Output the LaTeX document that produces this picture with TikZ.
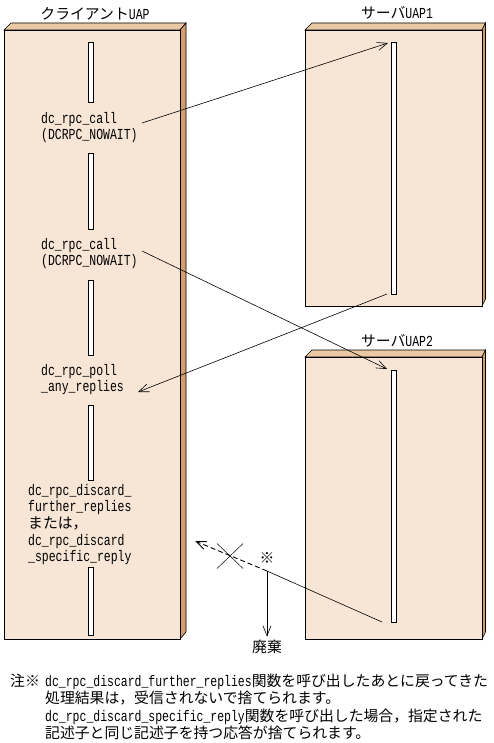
\documentclass[tikz,border=0pt]{standalone}
\usepackage{fontspec}
\setmainfont{Liberation Mono}[FakeStretch=0.75]
\newfontfamily\jp{Noto Sans CJK JP}[Scale=0.97]
\usetikzlibrary{arrows.meta}
\definecolor{facefront}{HTML}{F7E5D5}
\definecolor{facetop}{HTML}{EBC8A4}
\definecolor{faceside}{HTML}{D49E6E}
% UAP box: (left,top)(right,bottom){depth}
\def\uapbox(#1,#2)(#3,#4)#5{%
	\filldraw[fill=facetop, line width=0.6pt] (#1,#2) -- (#1+7,#2-7) -- (#3+#5,#2-7) -- (#3,#2) -- cycle;
	\filldraw[fill=faceside, line width=0.6pt] (#3,#2) -- (#3+#5,#2-7) -- (#3+#5,#4-7) -- (#3,#4) -- cycle;
	\filldraw[fill=facefront, line width=0.6pt] (#1,#2) rectangle (#3,#4);
}

\begin{document}
\begin{tikzpicture}[x=1pt, y=-1pt,
		every node/.style={font=\fontsize{15.3}{16.7}\selectfont},
		bar/.style={draw, fill=white, line width=0.6pt, minimum width=5pt, inner sep=0pt},
		lbl/.style={align=left, anchor=west, inner sep=0pt},
		msg/.style={-{Straight Barb[length=10pt,width=8pt]}, line width=0.6pt}]
		%%%%% START %%%%%
		
		\useasboundingbox (0,0) rectangle (493,743);
		
		\uapbox(4,30)(180,639){6}
		\uapbox(305,30)(482,306){3.5}
		\uapbox(305,357)(482,639){3.5}
		
		\node (tcli) at (95,14) {{\jp クライアント}UAP};
		\node (tsv1) at (397,13) {{\jp サーバ}UAP1};
		\node (tsv2) at (397,341) {{\jp サーバ}UAP2};
		
		\node[bar, minimum height=60pt] (cb1) at (91,72) {};
		\node[bar, minimum height=76pt] (cb2) at (91,191) {};
		\node[bar, minimum height=75pt] (cb3) at (91,317.5) {};
		\node[bar, minimum height=75pt] (cb4) at (91,442.5) {};
		\node[bar, minimum height=68pt] (cb5) at (91,601) {};
		\node[bar, minimum height=252pt] (sb1) at (393.5,168) {};
		\node[bar, minimum height=252pt] (sb2) at (393.5,496) {};
		
		\node[lbl] (call1) at (41,127.5) {dc\_rpc\_call\\(DCRPC\_NOWAIT)};
		\node[lbl] (call2) at (41,253.5) {dc\_rpc\_call\\(DCRPC\_NOWAIT)};
		\node[lbl] (poll) at (41,379.5) {dc\_rpc\_poll\\\_any\_replies};
		\node[lbl] (discard) at (28,524.5) {dc\_rpc\_discard\_\\further\_replies\\{\jp または，}\\dc\_rpc\_discard\\\_specific\_reply};
		
		\coordinate (call1out) at (142,123);
		\coordinate (s1in) at (388,43);
		\coordinate (call2out) at (142,251);
		\coordinate (s2in) at (387,369);
		\coordinate (s1out) at (387,294);
		\coordinate (pollin) at (138,392);
		\coordinate (s2out) at (382,622);
		\coordinate (split) at (267,571);
		\coordinate (discardin) at (195,541);
		\coordinate (cut) at (230,555.5);
		
		\draw[msg] (call1out) -- (s1in);
		\draw[msg] (call2out) -- (s2in);
		\draw[msg] (s1out) -- (pollin);
		
		% discarded reply
		\draw[line width=0.6pt] (s2out) -- (split);
		\draw[msg, line width=0.9pt, dash pattern=on 5pt off 3pt] (split) -- (discardin);
		\draw[line width=0.5pt] (cut) +(-13,-12) -- +(13,13) (cut) +(-13,13) -- +(13,-12);
		\node (mark) at (267,558) {\jp ※};
		\node (waste) at (267,647) {\jp 廃棄};
		\draw[msg] (split) -- (waste.north);
		
		\node[anchor=west, inner sep=0pt] (notemark) at (10,681) {\jp 注※};
		\node[lbl, font=\fontsize{15.3}{17.5}\selectfont] (note) at (45,707) {dc\_rpc\_discard\_further\_replies{\jp 関数を呼び出したあとに戻ってきた}\\{\jp 処理結果は，受信されないで捨てられます。}\\dc\_rpc\_discard\_specific\_reply{\jp 関数を呼び出した場合，指定された}\\{\jp 記述子と同じ記述子を持つ応答が捨てられます。}};
		
		%%%%% END %%%%%
\end{tikzpicture}
\end{document}
